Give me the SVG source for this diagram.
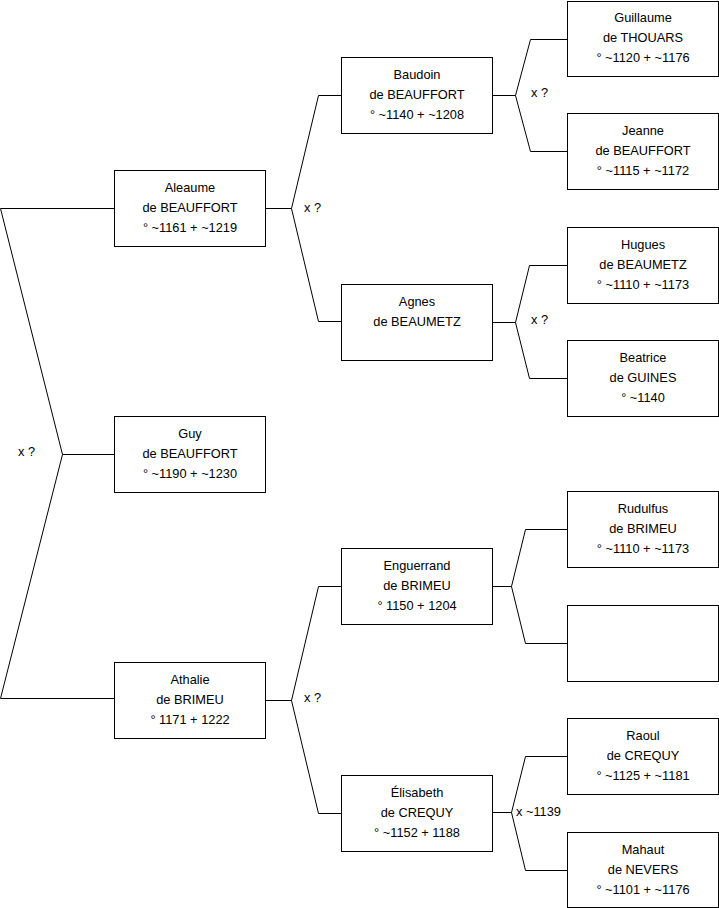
<svg xmlns="http://www.w3.org/2000/svg" width="719" height="908" viewBox="0 0 719 908">
<style>
rect{fill:#fff;stroke:#000;stroke-width:1}
text{font-family:"Liberation Sans",Arial,sans-serif;font-size:12.8px;fill:#000;text-anchor:middle}
.l{text-anchor:start}
#connectors path{fill:none;stroke:#000;stroke-width:1}
</style>
<rect x="0" y="0" width="719" height="908" style="stroke:none"/>
<g id="connectors">
<path d="M114.5,208.5H0.5L62.5,454.5L0.5,698.5H114.5M62.5,454.5H114.5"/>
<path d="M265.5,208.5H291.5M341.5,95.5H318.5L291.5,208.5L318.5,321.5H341.5"/>
<path d="M265.5,700.5H291.5M341.5,586.5H318.5L291.5,700.5L318.5,813.5H341.5"/>
<path d="M492.5,95.5H515.5M567.5,39.5H530.5L515.5,95.5L530.5,151.5H567.5"/>
<path d="M492.5,322.5H515.5M567.5,265.5H529.5L515.5,322.5L529.5,378.5H567.5"/>
<path d="M492.5,586.5H511.5M567.5,529.5H525.5L511.5,586.5L525.5,643.5H567.5"/>
<path d="M492.5,812.5H511.5M567.5,756.5H525.5L511.5,812.5L525.5,870.5H567.5"/>
<text class="l" x="18" y="456">x ?</text>
<text class="l" x="304" y="212">x ?</text>
<text class="l" x="304" y="702">x ?</text>
<text class="l" x="531" y="97">x ?</text>
<text class="l" x="531" y="324">x ?</text>
<text class="l" x="516" y="816">x ~1139</text>
</g>
<g id="aleaume"><rect x="114.5" y="170.5" width="151" height="76"/><text x="190" y="192">Aleaume</text><text x="190" y="212">de BEAUFFORT</text><text x="190" y="232">° ~1161 + ~1219</text></g>
<g id="guy"><rect x="114.5" y="416.5" width="151" height="76"/><text x="190" y="438">Guy</text><text x="190" y="458">de BEAUFFORT</text><text x="190" y="478">° ~1190 + ~1230</text></g>
<g id="athalie"><rect x="114.5" y="662.5" width="151" height="76"/><text x="190" y="684">Athalie</text><text x="190" y="704">de BRIMEU</text><text x="190" y="724">° 1171 + 1222</text></g>
<g id="baudoin"><rect x="341.5" y="57.5" width="151" height="76"/><text x="417" y="79">Baudoin</text><text x="417" y="99">de BEAUFFORT</text><text x="417" y="119">° ~1140 + ~1208</text></g>
<g id="agnes"><rect x="341.5" y="284.5" width="151" height="76"/><text x="417" y="306">Agnes</text><text x="417" y="326">de BEAUMETZ</text></g>
<g id="enguerrand"><rect x="341.5" y="548.5" width="151" height="76"/><text x="417" y="570">Enguerrand</text><text x="417" y="590">de BRIMEU</text><text x="417" y="610">° 1150 + 1204</text></g>
<g id="elisabeth"><rect x="341.5" y="775.5" width="151" height="76"/><text x="417" y="797">Élisabeth</text><text x="417" y="817">de CREQUY</text><text x="417" y="837">° ~1152 + 1188</text></g>
<g id="guillaume"><rect x="567.5" y="1.5" width="151" height="75"/><text x="643" y="22">Guillaume</text><text x="643" y="42">de THOUARS</text><text x="643" y="62">° ~1120 + ~1176</text></g>
<g id="jeanne"><rect x="567.5" y="113.5" width="151" height="76"/><text x="643" y="135">Jeanne</text><text x="643" y="155">de BEAUFFORT</text><text x="643" y="175">° ~1115 + ~1172</text></g>
<g id="hugues"><rect x="567.5" y="227.5" width="151" height="76"/><text x="643" y="249">Hugues</text><text x="643" y="269">de BEAUMETZ</text><text x="643" y="289">° ~1110 + ~1173</text></g>
<g id="beatrice"><rect x="567.5" y="340.5" width="151" height="76"/><text x="643" y="362">Beatrice</text><text x="643" y="382">de GUINES</text><text x="643" y="402">° ~1140</text></g>
<g id="rudulfus"><rect x="567.5" y="491.5" width="151" height="76"/><text x="643" y="513">Rudulfus</text><text x="643" y="533">de BRIMEU</text><text x="643" y="553">° ~1110 + ~1173</text></g>
<g id="unknown"><rect x="567.5" y="605.5" width="151" height="76"/></g>
<g id="raoul"><rect x="567.5" y="718.5" width="151" height="76"/><text x="643" y="740">Raoul</text><text x="643" y="760">de CREQUY</text><text x="643" y="780">° ~1125 + ~1181</text></g>
<g id="mahaut"><rect x="567.5" y="832.5" width="151" height="75"/><text x="643" y="854">Mahaut</text><text x="643" y="874">de NEVERS</text><text x="643" y="894">° ~1101 + ~1176</text></g>
</svg>
